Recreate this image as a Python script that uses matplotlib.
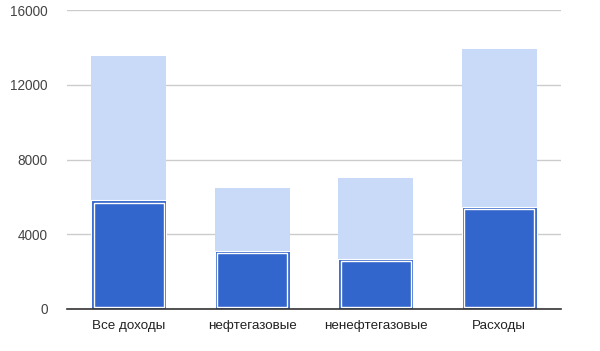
import matplotlib
matplotlib.use("Agg")
import matplotlib.pyplot as plt
import numpy as np

# ── data ─────────────────────────────────────────────────────────────────────
categories = ["Все доходы", "нефтегазовые", "ненефтегазовые", "Расходы"]
totals     = [13550, 6480, 7020, 13920]     # light background bars
actuals    = [5820, 3120, 2690, 5480]       # dark foreground bars
y_ticks    = [0, 4000, 8000, 12000, 16000]

LIGHT = "#c9daf8"
DARK  = "#3366cc"

plt.rcParams["font.family"] = ["Liberation Sans", "DejaVu Sans"]

fig = plt.figure(figsize=(6.0, 3.51), dpi=100)
ax = fig.add_axes([67 / 600, 42 / 351, 494 / 600, 298.7 / 351])

x = np.arange(len(categories))
w = 0.61

# px -> data conversions for the inner white outline
px_x = len(categories) / 494
px_y = 16000 / 298.7

ax.bar(x, totals, width=w, color=LIGHT, zorder=2)
ax.bar(x, actuals, width=w, color=DARK, edgecolor="white", linewidth=0.8, zorder=3)
inset_x, inset_y = 2.5 * px_x, 2.5 * px_y
ax.bar(x, np.array(actuals) - 2 * inset_y, bottom=inset_y, width=w - 2 * inset_x,
       facecolor="none", edgecolor="white", linewidth=1.0, zorder=4)

ax.set_xlim(-0.5, len(categories) - 0.5)
ax.set_ylim(0, 16000)
ax.set_yticks(y_ticks)
ax.set_yticklabels([str(t) for t in y_ticks], fontsize=9.8, color="#444444")
ax.set_xticks(x)
ax.set_xticklabels(categories, fontsize=9.6, color="#222222")
ax.tick_params(axis="both", length=0)
ax.tick_params(axis="y", pad=14)
ax.tick_params(axis="x", pad=8)

ax.grid(axis="y", color="#cccccc", linewidth=1.0, zorder=0)
for s in ["top", "right", "left"]:
    ax.spines[s].set_visible(False)
ax.spines["bottom"].set_color("#333333")
ax.spines["bottom"].set_linewidth(1.2)
ax.spines["bottom"].set_zorder(5)

fig.savefig("out.png", dpi=100)
